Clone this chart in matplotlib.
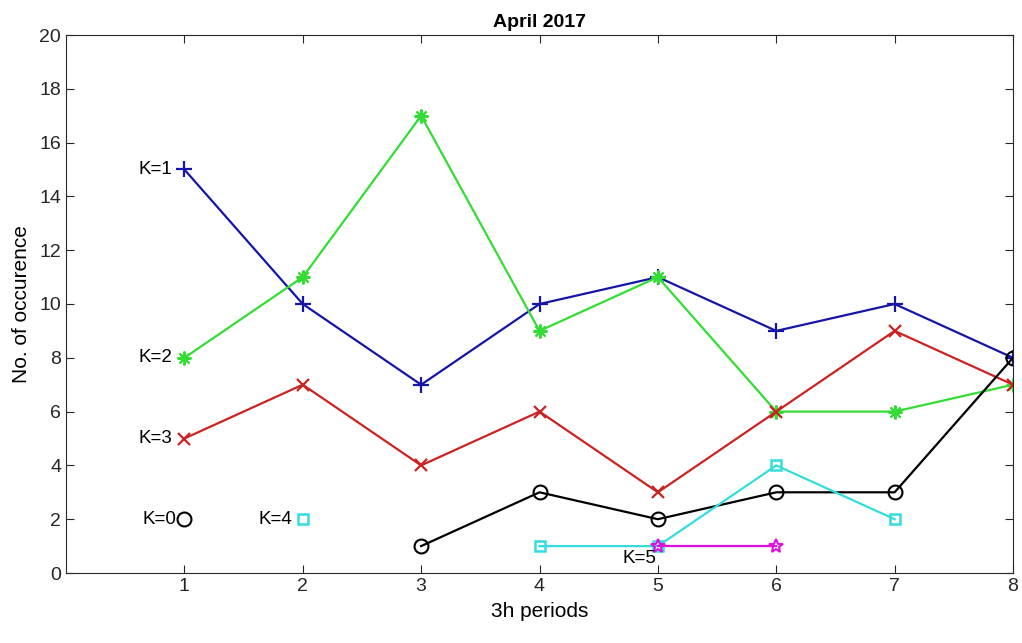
import numpy as np
import matplotlib
matplotlib.use('Agg')
import matplotlib.pyplot as plt

plt.rcParams['font.family'] = ['Liberation Sans', 'DejaVu Sans']

# Ocorrências por período de 3h, para cada índice K
periods = [1, 2, 3, 4, 5, 6, 7, 8]
k0 = [2, np.nan, 1, 3, 2, 3, 3, 8]
k1 = [15, 10, 7, 10, 11, 9, 10, 8]
k2 = [8, 11, 17, 9, 11, 6, 6, 7]
k3 = [5, 7, 4, 6, 3, 6, 9, 7]
k4 = [np.nan, 2, np.nan, 1, 1, 4, 2, np.nan]
k5 = [np.nan, np.nan, np.nan, np.nan, 1, 1, np.nan, np.nan]

fig = plt.figure(figsize=(10.22, 6.43), dpi=100)
ax = fig.add_axes([66 / 1022, 1 - 573 / 643, (1013 - 66) / 1022, (573 - 35) / 643])

ax.plot(periods, k1, color='#1515a8', marker='+', ms=11, mew=1.6, lw=1.6)
ax.plot(periods, k2, color='#33dd33', marker=(8, 2, 0), ms=10, mew=1.5, lw=1.6)
ax.plot(periods, k3, color='#cc2222', marker='x', ms=8, mew=1.6, lw=1.6)
ax.plot(periods, k0, color='black', marker='o', ms=10, mfc='none', mew=1.5, lw=1.6)
ax.plot(periods, k4, color='#33dddd', marker='s', ms=7, mfc='none', mew=1.8, lw=1.6)
ax.plot(periods, k5, color='#dd11dd', marker='*', ms=10, mfc='none', mew=1.5, lw=1.6)

# Rótulos de cada K junto ao primeiro ponto
labels = [('K=1', 1, k1[0], -12, 0), ('K=2', 1, k2[0], -12, 0),
          ('K=3', 1, k3[0], -12, 0), ('K=0', 1, k0[0], -8, 0),
          ('K=4', 2, k4[1], -10, 0), ('K=5', 5, k5[4], -2, -12)]
for txt, x, y, dx, dy in labels:
    ax.annotate(txt, (x, y), xytext=(dx, dy), textcoords='offset pixels',
                ha='right', va='center', fontsize=13.5)

ax.set_xlim(0, 8)
ax.set_ylim(0, 20)
ax.set_xticks(range(1, 9))
ax.set_yticks(range(0, 21, 2))
ax.tick_params(direction='in', top=True, right=True, labelsize=14, length=6, colors='#262626')
for s in ax.spines.values():
    s.set_color('#262626')
    s.set_linewidth(0.8)

ax.set_title('April 2017', fontsize=14, fontweight='bold', pad=6)
ax.set_xlabel('3h periods', fontsize=15, labelpad=5)
ax.set_ylabel('No. of occurence', fontsize=15, labelpad=6)

plt.savefig('out.png', dpi=100)
